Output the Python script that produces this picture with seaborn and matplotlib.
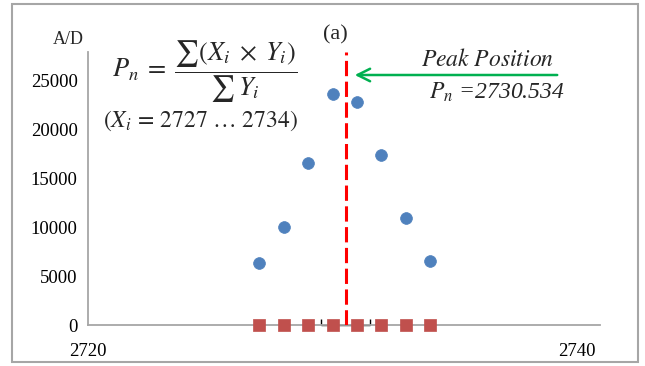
import matplotlib
matplotlib.use("Agg")
import matplotlib.pyplot as plt
import seaborn as sns
import pandas as pd
from matplotlib.patches import Rectangle

# Data
x_pos = [2727, 2728, 2729, 2730, 2731, 2732, 2733, 2734]
ad_values = [6350, 10000, 16540, 23600, 22800, 17400, 10950, 6600]
base_values = [0, 0, 0, 0, 0, 0, 0, 0]
peak_position = 2730.534
peak_halfwidth = 1.0
y_ticks = [0, 5000, 10000, 15000, 20000, 25000]
x_ticks = [2720, 2740]

sns.set_style("white")
plt.rcParams['font.family'] = ['Liberation Serif', 'DejaVu Serif']
plt.rcParams['mathtext.fontset'] = 'stix'

W, H = 645, 366
fig = plt.figure(figsize=(W / 100, H / 100), dpi=100)
ax = fig.add_axes([88 / W, 1 - 325.3 / H, (600 - 88) / W, (325.3 - 52) / H])

df = pd.DataFrame({"x": x_pos, "ad": ad_values, "base": base_values})

eb = ax.errorbar([peak_position], [0], xerr=peak_halfwidth, color="black", lw=1.0,
                 capsize=4, capthick=1.0, zorder=2, clip_on=False)
for cap in eb[1]:
    cap.set_marker(2)  # tick up
    cap.set_markersize(4)
sns.scatterplot(data=df, x="x", y="base", ax=ax, marker="s", s=78,
                color="#C0504D", edgecolor="#C0504D", linewidth=0.5, zorder=3, clip_on=False)
sns.scatterplot(data=df, x="x", y="ad", ax=ax, marker="o", s=72,
                color="#4F81BD", edgecolor="#4F81BD", linewidth=0.5, zorder=3)
ax.axvline(peak_position, color="#FF0000", lw=2.2, dashes=(5, 1.8), zorder=4)

ax.set_xlim(2720, 2740.94)
ax.set_ylim(0, 27900)
ax.set_xticks(x_ticks)
ax.set_yticks(y_ticks)
ax.set_xlabel("")
ax.set_ylabel("")
for s in ["top", "right"]:
    ax.spines[s].set_visible(False)
for s in ["left", "bottom"]:
    ax.spines[s].set_color("#A6A6A6")
    ax.spines[s].set_linewidth(1.3)
ax.tick_params(axis="both", direction="out", length=4.5, width=1.2, color="#A6A6A6",
               labelsize=13.5, labelcolor="black")
ax.tick_params(axis="x", pad=8)
ax.tick_params(axis="y", pad=3)

def px(x, y):
    return x / W, 1 - y / H

fig.text(*px(68, 40), "A/D", ha="center", va="center", fontsize=13)
fig.text(*px(335, 35), "(a)", ha="center", va="center", fontsize=16)

fig.text(*px(205, 72), r"$P_n\;=\;\dfrac{\sum(X_i \;\times\; Y_i)}{\sum\, Y_i}$",
         ha="center", va="center", fontsize=19)
fig.text(*px(200, 121), r"$(X_i\,=\,2727\ \ldots\ 2734)$",
         ha="center", va="center", fontsize=17)
fig.text(*px(488, 60), r"$Peak\ Position$", ha="center", va="center", fontsize=17)
fig.text(*px(497, 92), r"$P_n$ =2730.534", ha="center", va="center", fontsize=17,
         fontstyle="italic")

ax.annotate("", xy=px(352, 75), xycoords="figure fraction",
            xytext=px(560, 75), textcoords="figure fraction",
            arrowprops=dict(arrowstyle="->,head_length=0.9,head_width=0.45",
                            color="#00B050", lw=1.8))

fig.patches.append(Rectangle((12 / W, 1 - 362 / H), (638 - 12) / W, (362 - 4) / H,
                             transform=fig.transFigure, fill=False,
                             edgecolor="#A6A6A6", lw=1.5))

fig.savefig("out.png", dpi=100)
